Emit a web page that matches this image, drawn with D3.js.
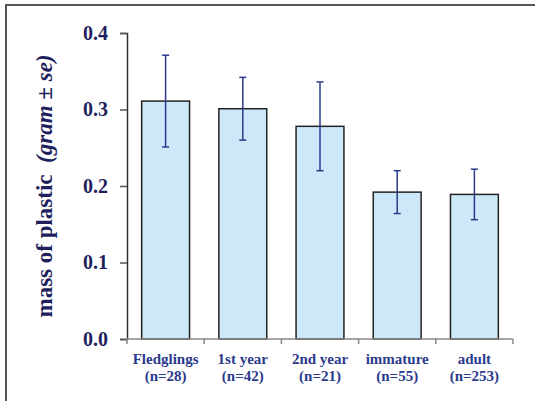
<!DOCTYPE html>
<html><head><meta charset="utf-8">
<script src="https://cdn.jsdelivr.net/npm/d3@7/dist/d3.min.js"></script>
<style>body{margin:0;background:#fff}svg{display:block}</style>
</head><body>
<script>
const categories = ["Fledglings", "1st year", "2nd year", "immature", "adult"];
const sampleSizes = ["(n=28)", "(n=42)", "(n=21)", "(n=55)", "(n=253)"];
const means = [0.311, 0.301, 0.278, 0.192, 0.189];
const stdErrors = [0.060, 0.041, 0.058, 0.028, 0.033];
const yTicks = [0.0, 0.1, 0.2, 0.3, 0.4];

const W = 535, H = 401;
const svg = d3.select("body").append("svg").attr("width", W).attr("height", H);

// outer frame
svg.append("rect").attr("x", 6).attr("y", 5).attr("width", 560).attr("height", 420)
  .attr("fill", "none").attr("stroke", "#555").attr("stroke-width", 2);

const m = {left: 127, right: 513, top: 33, bottom: 339};
const x = d3.scaleBand().domain(categories).range([m.left, m.right]).paddingInner(0.38).paddingOuter(0.19);
const y = d3.scaleLinear().domain([0, 0.4]).range([m.bottom, m.top]);

// bars
svg.append("g").selectAll("rect").data(categories).join("rect")
  .attr("x", d => x(d)).attr("width", x.bandwidth())
  .attr("y", (d, i) => y(means[i])).attr("height", (d, i) => y(0) - y(means[i]))
  .attr("fill", "#cde9f9").attr("stroke", "#222").attr("stroke-width", 1.5);

// error bars
const eb = svg.append("g").attr("stroke", "#2b3a8c").attr("stroke-width", 1.5);
categories.forEach((c, i) => {
  const cx = x(c) + x.bandwidth() / 2;
  const hi = y(means[i] + stdErrors[i]), lo = y(means[i] - stdErrors[i]);
  eb.append("line").attr("x1", cx).attr("x2", cx).attr("y1", hi).attr("y2", lo);
  eb.append("line").attr("x1", cx - 3.5).attr("x2", cx + 3.5).attr("y1", hi).attr("y2", hi);
  eb.append("line").attr("x1", cx - 3.5).attr("x2", cx + 3.5).attr("y1", lo).attr("y2", lo);
});

// y axis
const yAxis = svg.append("g").attr("transform", `translate(${m.left},0)`)
  .call(d3.axisLeft(y).tickValues(yTicks).tickFormat(d3.format(".1f")).tickSize(7).tickPadding(12));
yAxis.select(".domain").attr("stroke", "#333").attr("stroke-width", 1.5);
yAxis.selectAll(".tick line").attr("stroke", "#555").attr("stroke-width", 1.5);
yAxis.selectAll(".tick text").attr("fill", "#1f1f5e")
  .style("font-family", "'Liberation Serif', 'Times New Roman', serif")
  .style("font-weight", "bold").style("font-size", "20px");

// x axis
const xAxis = svg.append("g").attr("transform", `translate(0,${m.bottom})`);
xAxis.append("line").attr("x1", m.left).attr("x2", m.right).attr("y1", 0).attr("y2", 0)
  .attr("stroke", "#888").attr("stroke-width", 1.5);
const edges = d3.range(categories.length + 1).map(i => m.left + i * (m.right - m.left) / categories.length);
xAxis.selectAll("line.sep").data(edges).join("line").attr("class", "sep")
  .attr("x1", d => d).attr("x2", d => d).attr("y1", 0).attr("y2", 5)
  .attr("stroke", "#888").attr("stroke-width", 1.5);

const xl = svg.append("g").attr("fill", "#2b3a8c")
  .style("font-family", "'Liberation Serif', 'Times New Roman', serif")
  .style("font-weight", "bold").style("font-size", "15px").attr("text-anchor", "middle");
categories.forEach((c, i) => {
  const cx = x(c) + x.bandwidth() / 2;
  xl.append("text").attr("x", cx).attr("y", 364).text(c);
  xl.append("text").attr("x", cx).attr("y", 381).text(sampleSizes[i]);
});

// y label
const yl = svg.append("text").attr("transform", `translate(52,${(m.top + m.bottom) / 2}) rotate(-90)`)
  .attr("text-anchor", "middle").attr("fill", "#1f1f5e")
  .style("font-family", "'Liberation Serif', 'Times New Roman', serif")
  .style("font-weight", "bold").style("font-size", "23px");
yl.append("tspan").text("mass of plastic\u00a0\u00a0");
yl.append("tspan").style("font-style", "italic").text("(gram \u00b1 se)");
</script>
</body></html>
